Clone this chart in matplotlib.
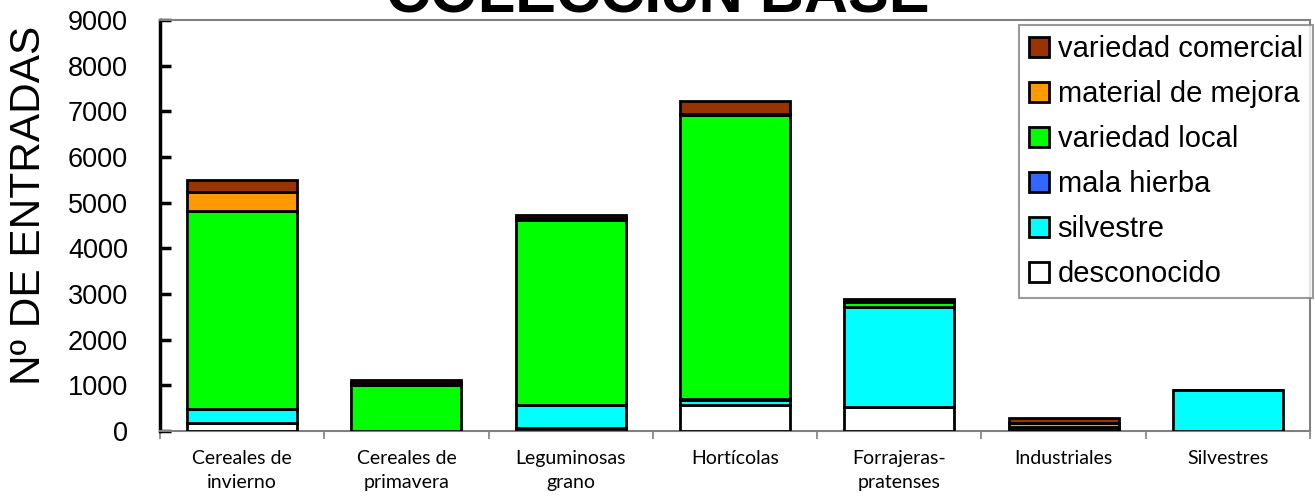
import matplotlib
matplotlib.use("Agg")
import matplotlib.pyplot as plt
import numpy as np

categories = ["Cereales de\ninvierno", "Cereales de\nprimavera", "Leguminosas\ngrano",
              "Hortícolas", "Forrajeras-\npratenses", "Industriales", "Silvestres"]
desconocido = [175, 0, 60, 580, 530, 30, 0]
silvestre = [305, 0, 510, 90, 2190, 0, 900]
mala_hierba = [0, 0, 0, 20, 0, 0, 0]
variedad_local = [4330, 1010, 4050, 6240, 100, 60, 0]
material_mejora = [420, 40, 50, 20, 40, 90, 0]
variedad_comercial = [270, 70, 60, 270, 40, 110, 0]

series = [
    ("desconocido", desconocido, "#FFFFFF"),
    ("silvestre", silvestre, "#00FFFF"),
    ("mala hierba", mala_hierba, "#3366FF"),
    ("variedad local", variedad_local, "#00FF00"),
    ("material de mejora", material_mejora, "#FF9900"),
    ("variedad comercial", variedad_comercial, "#993300"),
]

W, H = 1315, 497
fig = plt.figure(figsize=(W / 100, H / 100), dpi=100)
ax = fig.add_axes([160 / W, 1 - 431 / H, 1150 / W, 411 / H])

x = np.arange(len(categories))
bottom = np.zeros(len(categories))
handles = []
for name, vals, col in series:
    b = ax.bar(x, vals, width=0.67, bottom=bottom, color=col, edgecolor="black",
               linewidth=2.0, label=name, zorder=3)
    handles.append(b)
    bottom += np.array(vals)

ax.set_xlim(-0.5, len(categories) - 0.5)
ax.set_ylim(0, 9000)
ax.set_yticks(np.arange(0, 9001, 1000))
ax.tick_params(axis="y", direction="in", length=8, width=2.5, color="black",
               labelsize=19.5, pad=23)
for lab in ax.get_yticklabels():
    lab.set_family("Liberation Sans")

ax.set_xticks(x)
ax.set_xticklabels(categories, family="Lato", fontsize=14, linespacing=1.45)
ax.tick_params(axis="x", length=0, pad=14)
ax.set_xticks(np.arange(-0.5, len(categories)), minor=True)
ax.tick_params(axis="x", which="minor", direction="out", length=6, width=1.2, color="#808080")

for s in ["top", "right", "bottom"]:
    ax.spines[s].set_color("#808080")
    ax.spines[s].set_linewidth(1.5)
ax.spines["left"].set_color("black")
ax.spines["left"].set_linewidth(2.5)

fig.text(29 / W, 1 - 205 / H, "Nº DE ENTRADAS", rotation=90, ha="center", va="center",
         family="Liberation Sans", fontsize=30.5)
fig.text(0.5, 1 - 11 / H, "COLECCIóN BASE", ha="center", va="baseline",
         family="Liberation Sans", fontweight="bold", fontsize=44)

leg = fig.legend(handles[::-1], [s[0] for s in series][::-1],
                 loc="upper right", bbox_to_anchor=(1313 / W, 1 - 25 / H),
                 prop={"family": "Liberation Sans", "size": 21},
                 frameon=True, fancybox=False, edgecolor="#808080",
                 handlelength=0.68, handleheight=0.68, handletextpad=0.3,
                 labelspacing=0.58, borderpad=0.35, borderaxespad=0)
leg.get_frame().set_linewidth(1.5)

fig.savefig("out.png", dpi=100)
